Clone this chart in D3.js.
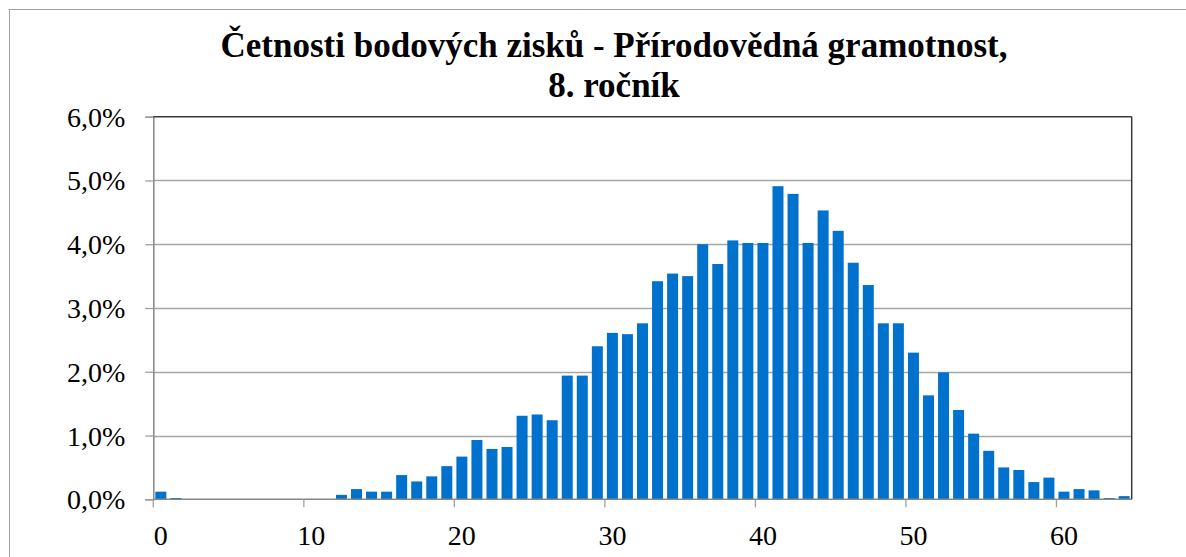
<!DOCTYPE html>
<html>
<head>
<meta charset="utf-8">
<script src="https://cdn.jsdelivr.net/npm/d3@7"></script>
<style>
  html, body { margin: 0; padding: 0; background: #fff; }
  svg { display: block; }
</style>
</head>
<body>
<svg id="chart" width="1186" height="557"></svg>
<script>
// ---- data ----
const categories = d3.range(0, 65); // body 0..64
const values = [
  0.12, 0.02, 0, 0, 0, 0, 0, 0, 0, 0,
  0, 0, 0.07, 0.16, 0.12, 0.12, 0.38, 0.28, 0.36, 0.52,
  0.67, 0.93, 0.79, 0.82, 1.31, 1.33, 1.24, 1.94, 1.94, 2.40,
  2.61, 2.59, 2.76, 3.42, 3.54, 3.50, 4.00, 3.69, 4.06, 4.02,
  4.02, 4.91, 4.79, 4.02, 4.53, 4.21, 3.71, 3.36, 2.76, 2.76,
  2.30, 1.63, 1.99, 1.40, 1.03, 0.76, 0.50, 0.46, 0.27, 0.34,
  0.12, 0.16, 0.14, 0.02, 0.05
];
const xTickLabels = [0, 10, 20, 30, 40, 50, 60];
const yTicks = [0, 1, 2, 3, 4, 5, 6];
const titleLines = ["Četnosti bodových zisků - Přírodovědná gramotnost,", "8. ročník"];

const FONT = '"Liberation Serif", "Times New Roman", Tinos, serif';

// ---- layout ----
const svg = d3.select("#chart");
const plot = { left: 153.3, right: 1131.7, top: 116.7, bottom: 499.3 };

// outer frame (top and left visible)
svg.append("line").attr("x1", 8.5).attr("x2", 1186).attr("y1", 9.5).attr("y2", 9.5)
  .attr("stroke", "#a0a0a0").attr("stroke-width", 1);
svg.append("line").attr("x1", 9.5).attr("x2", 9.5).attr("y1", 9.5).attr("y2", 557)
  .attr("stroke", "#a0a0a0").attr("stroke-width", 1);

const x = d3.scaleBand().domain(categories).range([plot.left, plot.right])
  .paddingInner(0.27).paddingOuter(0.135);
const y = d3.scaleLinear().domain([0, 6]).range([plot.bottom, plot.top]);

// gridlines
svg.append("g").selectAll("line").data(yTicks.filter(d => d > 0 && d < 6)).join("line")
  .attr("x1", plot.left).attr("x2", plot.right)
  .attr("y1", d => Math.round(y(d)) + 0.5).attr("y2", d => Math.round(y(d)) + 0.5)
  .attr("stroke", "#a6a6a6").attr("stroke-width", 1.3);

// bars
svg.append("g").selectAll("rect").data(values).join("rect")
  .attr("x", (d, i) => x(categories[i]))
  .attr("width", x.bandwidth())
  .attr("y", d => y(d))
  .attr("height", d => plot.bottom - y(d))
  .attr("fill", "#0071CD");

// y axis
const yAxis = d3.axisLeft(y).tickValues(yTicks).tickSize(8).tickPadding(20)
  .tickFormat(d => d3.format(".1f")(d).replace(".", ",") + "%");
const gy = svg.append("g").attr("transform", `translate(${plot.left},0)`).call(yAxis);
gy.attr("font-family", null).attr("font-size", null);
gy.select(".domain").attr("stroke", "#868686").attr("stroke-width", 1.5);
gy.selectAll(".tick line").attr("stroke", "#a0a0a0").attr("stroke-width", 1.3);
gy.selectAll(".tick text")
  .style("font-family", FONT).style("font-size", "28px").attr("fill", "#000")
  .attr("dy", "0.34em");

// x axis: ticks between categories every 10, labels at category centres
const gx = svg.append("g");
gx.append("line").attr("x1", plot.left).attr("x2", plot.right)
  .attr("y1", plot.bottom).attr("y2", plot.bottom)
  .attr("stroke", "#868686").attr("stroke-width", 1.5);
gx.selectAll("line.tk").data(xTickLabels).join("line").attr("class", "tk")
  .attr("x1", d => x(d) - x.step() * x.paddingInner() / 2)
  .attr("x2", d => x(d) - x.step() * x.paddingInner() / 2)
  .attr("y1", plot.bottom).attr("y2", plot.bottom + 8)
  .attr("stroke", "#a0a0a0").attr("stroke-width", 1.3);
gx.selectAll("text").data(xTickLabels).join("text")
  .attr("x", d => x(d) + x.bandwidth() / 2)
  .attr("y", 545)
  .attr("text-anchor", "middle")
  .style("font-family", FONT).style("font-size", "28px")
  .attr("fill", "#000")
  .text(d => d);

// plot frame top & right
svg.append("line").attr("x1", plot.left).attr("x2", plot.right).attr("y1", plot.top).attr("y2", plot.top)
  .attr("stroke", "#3a3a3a").attr("stroke-width", 1.5);
svg.append("line").attr("x1", plot.right).attr("x2", plot.right).attr("y1", plot.top).attr("y2", plot.bottom)
  .attr("stroke", "#3a3a3a").attr("stroke-width", 1.5);

// title
svg.append("g").selectAll("text").data(titleLines).join("text")
  .attr("x", 614).attr("y", (d, i) => 57 + i * 40)
  .attr("text-anchor", "middle")
  .style("font-family", FONT).style("font-size", "35px").style("font-weight", "bold")
  .attr("fill", "#000")
  .text(d => d);
</script>
</body>
</html>
